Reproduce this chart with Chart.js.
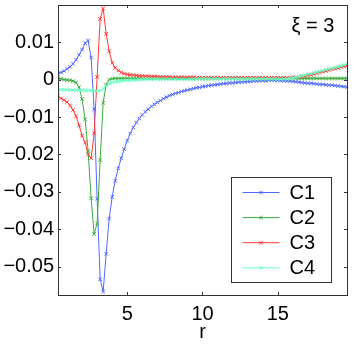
<!DOCTYPE html>
<html>
<head>
<meta charset="utf-8">
<script src="https://cdn.jsdelivr.net/npm/chart.js@4/dist/chart.umd.min.js"></script>
<style>
html,body{margin:0;padding:0;background:#fff;}
#wrap{width:354px;height:344px;position:relative;}
</style>
</head>
<body>
<div id="wrap"><canvas id="c" width="354" height="344"></canvas></div>
<script>
// r sample positions (0.4 .. 19.6, step 0.2)
const rValues = [
 0.4,0.6,0.8,1.0,1.2,1.4,1.6,1.8,2.0,2.2,
 2.4,2.6,2.8,3.0,3.2,3.4,3.6,3.8,4.0,4.2,
 4.4,4.6,4.8,5.0,5.2,5.4,5.6,5.8,6.0,6.2,
 6.4,6.6,6.8,7.0,7.2,7.4,7.6,7.8,8.0,8.2,
 8.4,8.6,8.8,9.0,9.2,9.4,9.6,9.8,10.0,10.2,
 10.4,10.6,10.8,11.0,11.2,11.4,11.6,11.8,12.0,12.2,
 12.4,12.6,12.8,13.0,13.2,13.4,13.6,13.8,14.0,14.2,
 14.4,14.6,14.8,15.0,15.2,15.4,15.6,15.8,16.0,16.2,
 16.4,16.6,16.8,17.0,17.2,17.4,17.6,17.8,18.0,18.2,
 18.4,18.6,18.8,19.0,19.2,19.4,19.6
];
const c1 = [
 0.0015,0.0019,0.0023,0.0029,0.0034,0.0042,0.0053,0.0066,0.0080,0.0097,
 0.0104,0.0059,-0.0079,-0.0318,-0.0533,-0.0566,-0.0465,-0.0371,-0.0313,-0.0270,
 -0.0237,-0.0210,-0.0186,-0.0163,-0.0144,-0.0128,-0.0115,-0.0104,-0.0094,-0.0086,
 -0.0079,-0.0072,-0.0066,-0.0061,-0.0056,-0.0051,-0.0047,-0.0043,-0.0040,-0.0037,
 -0.0035,-0.0032,-0.0030,-0.0028,-0.0026,-0.0024,-0.0022,-0.0021,-0.0019,-0.0018,
 -0.0016,-0.0015,-0.0014,-0.0013,-0.0012,-0.0011,-0.0010,-0.0009,-0.0009,-0.0008,
 -0.0007,-0.0007,-0.0006,-0.0005,-0.0005,-0.0004,-0.0004,-0.0003,-0.0003,-0.0003,
 -0.0002,-0.0002,-0.0002,-0.0002,-0.0003,-0.0003,-0.0004,-0.0004,-0.0005,-0.0006,
 -0.0007,-0.0008,-0.0009,-0.0010,-0.0010,-0.0011,-0.0012,-0.0013,-0.0013,-0.0014,
 -0.0015,-0.0015,-0.0016,-0.0017,-0.0018,-0.0019,-0.0020
];
const c2 = [
 0.0003,0.0002,0.0000,-0.0001,-0.0002,-0.0004,-0.0008,-0.0020,-0.0052,-0.0106,
 -0.0190,-0.0317,-0.0412,-0.0384,-0.0215,-0.0062,-0.0013,0.0000,0.0002,0.0003,
 0.0003,0.0003,0.0003,0.0003,0.0003,0.0003,0.0003,0.0003,0.0003,0.0003,
 0.0003,0.0003,0.0003,0.0003,0.0003,0.0003,0.0003,0.0003,0.0003,0.0003,
 0.0003,0.0003,0.0003,0.0003,0.0003,0.0003,0.0003,0.0003,0.0003,0.0003,
 0.0003,0.0003,0.0003,0.0003,0.0003,0.0003,0.0003,0.0003,0.0003,0.0003,
 0.0003,0.0003,0.0003,0.0003,0.0003,0.0003,0.0003,0.0003,0.0003,0.0003,
 0.0003,0.0003,0.0003,0.0003,0.0003,0.0003,0.0003,0.0003,0.0003,0.0003,
 0.0003,0.0003,0.0003,0.0003,0.0003,0.0003,0.0003,0.0003,0.0003,0.0003,
 0.0003,0.0003,0.0003,0.0003,0.0003,0.0003,0.0003
];
const c3 = [
 -0.0044,-0.0050,-0.0055,-0.0060,-0.0069,-0.0081,-0.0098,-0.0122,-0.0150,-0.0168,
 -0.0200,-0.0210,-0.0143,0.0007,0.0162,0.0190,0.0122,0.0076,0.0045,0.0031,
 0.0024,0.0019,0.0016,0.0014,0.0013,0.0012,0.0011,0.0010,0.0010,0.0009,
 0.0009,0.0008,0.0008,0.0008,0.0007,0.0007,0.0007,0.0007,0.0006,0.0006,
 0.0006,0.0006,0.0006,0.0006,0.0006,0.0006,0.0005,0.0005,0.0005,0.0005,
 0.0005,0.0005,0.0005,0.0005,0.0005,0.0005,0.0005,0.0005,0.0005,0.0005,
 0.0005,0.0005,0.0005,0.0005,0.0005,0.0005,0.0005,0.0005,0.0005,0.0005,
 0.0005,0.0005,0.0005,0.0005,0.0005,0.0005,0.0005,0.0005,0.0006,0.0006,
 0.0007,0.0008,0.0009,0.0011,0.0013,0.0015,0.0017,0.0019,0.0021,0.0023,
 0.0025,0.0027,0.0029,0.0031,0.0033,0.0035,0.0036
];
const c4 = [
 -0.0027,-0.0027,-0.0027,-0.0027,-0.0028,-0.0028,-0.0028,-0.0028,-0.0028,-0.0029,
 -0.0029,-0.0029,-0.0030,-0.0030,-0.0029,-0.0024,-0.0016,-0.0011,-0.0008,-0.0006,
 -0.0005,-0.0004,-0.0003,-0.0002,-0.0002,-0.0001,-0.0001,0.0000,0.0000,0.0001,
 0.0001,0.0001,0.0001,0.0001,0.0001,0.0001,0.0001,0.0001,0.0001,0.0001,
 0.0001,0.0001,0.0001,0.0001,0.0001,0.0001,0.0002,0.0002,0.0002,0.0002,
 0.0002,0.0002,0.0002,0.0002,0.0002,0.0002,0.0002,0.0002,0.0002,0.0002,
 0.0002,0.0002,0.0002,0.0002,0.0002,0.0002,0.0002,0.0002,0.0002,0.0002,
 0.0002,0.0002,0.0002,0.0002,0.0002,0.0002,0.0002,0.0003,0.0004,0.0006,
 0.0008,0.0010,0.0012,0.0014,0.0016,0.0018,0.0020,0.0022,0.0024,0.0026,
 0.0028,0.0030,0.0032,0.0034,0.0036,0.0039,0.0042
];
const seriesNames = ['C1','C2','C3','C4'];
const seriesColors = ['#4f68ff','#3bab3b','#ff3838','#66ffc4'];
const xTicks = [5,10,15];
const yTicks = [-0.05,-0.04,-0.03,-0.02,-0.01,0,0.01];
const xLabel = 'r';
const panelTitle = 'ξ = 3';

const FONT = '"Liberation Sans", Arial, Helvetica, sans-serif';
const FS = 20;
const AXC = '#333333';

const allSeries = [c1,c2,c3,c4];
const datasets = allSeries.map((s,k)=>({
  label: seriesNames[k],
  data: rValues.map((r,i)=>({x:r,y:s[i]})),
  order: allSeries.length - k,
  borderColor: seriesColors[k],
  backgroundColor: seriesColors[k],
  borderWidth: 1,
  pointStyle: 'crossRot',
  pointRadius: 2.5,
  pointBorderWidth: 1,
  pointHoverRadius: 2.5,
  tension: 0,
  fill: false
}));

const boxPlugin = {
  id: 'box',
  afterDatasetsDraw(chart){
    const ctx = chart.ctx, a = chart.chartArea;
    const xs = chart.scales.x, ys = chart.scales.y;
    ctx.save();
    ctx.strokeStyle = AXC; ctx.lineWidth = 1;
    ctx.beginPath();
    xTicks.forEach(v=>{
      const px = Math.round(xs.getPixelForValue(v))+0.5;
      ctx.moveTo(px,a.bottom); ctx.lineTo(px,a.bottom-3);
      ctx.moveTo(px,a.top); ctx.lineTo(px,a.top+3);
    });
    yTicks.forEach(v=>{
      const py = Math.round(ys.getPixelForValue(v))+0.5;
      ctx.moveTo(a.left,py); ctx.lineTo(a.left+3,py);
      ctx.moveTo(a.right,py); ctx.lineTo(a.right-3,py);
    });
    ctx.stroke();
    ctx.strokeRect(Math.round(a.left)+0.5, Math.round(a.top)+0.5, Math.round(a.right-a.left), Math.round(a.bottom-a.top));
    ctx.fillStyle = '#000';
    ctx.font = FS+'px '+FONT;
    ctx.textAlign = 'center'; ctx.textBaseline = 'middle';
    ctx.fillText(panelTitle, a.right-34, a.top+21);
    const lx = 231.5, ly = 177.5, lw = 100, lh = 105;
    ctx.fillStyle = '#fff';
    ctx.fillRect(lx,ly,lw,lh);
    ctx.strokeStyle = AXC;
    ctx.strokeRect(lx,ly,lw,lh);
    seriesNames.forEach((n,k)=>{
      const yy = ly + 15 + k*25.1;
      ctx.strokeStyle = seriesColors[k];
      ctx.lineWidth = 1;
      ctx.beginPath(); ctx.moveTo(lx+11,yy); ctx.lineTo(lx+48,yy); ctx.stroke();
      const mx = lx+29.5;
      ctx.beginPath();
      ctx.moveTo(mx-1.8,yy-1.8); ctx.lineTo(mx+1.8,yy+1.8);
      ctx.moveTo(mx-1.8,yy+1.8); ctx.lineTo(mx+1.8,yy-1.8);
      ctx.stroke();
      ctx.fillStyle = '#000';
      ctx.textAlign = 'left'; ctx.textBaseline = 'middle';
      ctx.fillText(n, lx+58, yy+1);
    });
    ctx.restore();
  }
};

new Chart(document.getElementById('c'), {
  type: 'line',
  data: { datasets },
  options: {
    responsive: false,
    animation: false,
    events: [],
    layout: { padding: { left: 0, right: 7, top: 5, bottom: 0 } },
    plugins: { legend: { display: false }, tooltip: { enabled: false } },
    scales: {
      x: {
        type: 'linear',
        min: 0.4, max: 19.6,
        afterBuildTicks(s){ s.ticks = xTicks.map(v=>({value:v})); },
        afterFit(s){ s.height = 49; s.paddingLeft = 0; s.paddingRight = 0; },
        grid: { display: false, drawTicks: false },
        border: { display: false },
        ticks: { color: '#000', font: { family: FONT, size: FS }, padding: 7, maxRotation: 0, autoSkip: false,
                 callback: v => String(v) },
        title: { display: true, text: xLabel, color: '#000', font: { family: FONT, size: FS }, padding: 0 }
      },
      y: {
        type: 'linear',
        min: -0.0575, max: 0.0199,
        afterBuildTicks(s){ s.ticks = yTicks.map(v=>({value:v})); },
        afterFit(s){ s.width = 58; s.paddingTop = 0; s.paddingBottom = 0; },
        grid: { display: false, drawTicks: false },
        border: { display: false },
        ticks: { color: '#000', font: { family: FONT, size: FS }, padding: 4, autoSkip: false,
                 callback: v => { const r = Math.round(v*100)/100; return r === 0 ? '0' : (r<0 ? '\u2212'+Math.abs(r).toFixed(2) : r.toFixed(2)); } }
      }
    }
  },
  plugins: [boxPlugin]
});
</script>
</body>
</html>
